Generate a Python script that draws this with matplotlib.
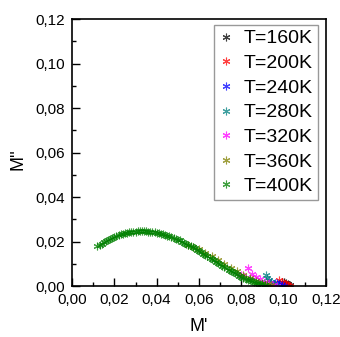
import matplotlib
matplotlib.use('Agg')
import matplotlib.pyplot as plt
from matplotlib.ticker import MultipleLocator, FuncFormatter

labels = ['T=160K', 'T=200K', 'T=240K', 'T=280K', 'T=320K', 'T=360K', 'T=400K']
colors = ['#000000', '#ff0000', '#0000ff', '#008080', '#ff00ff', '#808000', '#008000']

# M' values
x160 = [0.099, 0.100, 0.101, 0.102, 0.103]
x200 = [0.098, 0.099, 0.100, 0.101, 0.102, 0.103]
x240 = [0.094, 0.096, 0.097, 0.098, 0.099, 0.100]
x280 = [0.090, 0.0915, 0.092, 0.093, 0.094, 0.095, 0.096, 0.097]
x320 = [0.080, 0.081, 0.083, 0.085, 0.087, 0.089, 0.091, 0.093, 0.095, 0.097]
x360 = [0.055, 0.057, 0.060, 0.063, 0.066, 0.069, 0.072, 0.075, 0.078,
        0.081, 0.084, 0.087, 0.090, 0.092, 0.094]
x400 = [0.012, 0.013, 0.014, 0.015, 0.016, 0.017, 0.018, 0.019, 0.020, 0.021,
        0.022, 0.023, 0.024, 0.025, 0.026, 0.027, 0.028, 0.029, 0.030, 0.031,
        0.032, 0.033, 0.034, 0.035, 0.036, 0.037, 0.038, 0.039, 0.040, 0.041,
        0.042, 0.043, 0.044, 0.045, 0.046, 0.047, 0.048, 0.049, 0.050, 0.051,
        0.052, 0.053, 0.054, 0.055, 0.056, 0.057, 0.058, 0.059, 0.060, 0.061,
        0.062, 0.063, 0.064, 0.065, 0.066, 0.067, 0.068, 0.069, 0.070, 0.071,
        0.072, 0.073, 0.074, 0.075, 0.076, 0.077, 0.078, 0.079, 0.080, 0.081,
        0.082, 0.083, 0.084, 0.085, 0.086, 0.087, 0.088, 0.089, 0.090, 0.091,
        0.092]

# M'' values
y160 = [0.002, 0.0015, 0.0012, 0.0008, 0.0004]
y200 = [0.0028, 0.002, 0.0015, 0.001, 0.0006, 0.0002]
y240 = [0.002, 0.0015, 0.0012, 0.0008, 0.0005, 0.0002]
y280 = [0.001, 0.005, 0.0035, 0.0025, 0.0016, 0.001, 0.0005, 0.0002]
y320 = [0.005, 0.0045, 0.008, 0.0055, 0.004, 0.003, 0.002, 0.0012, 0.0006, 0.0002]
y360 = [0.0183, 0.0176, 0.0165, 0.0150, 0.0134, 0.0117, 0.0100, 0.0083, 0.0066,
        0.0050, 0.0036, 0.0024, 0.0014, 0.0008, 0.0003]
y400 = [0.0178, 0.0184, 0.0190, 0.0196, 0.0202, 0.0208, 0.0213, 0.0218, 0.0222, 0.0226,
        0.0229, 0.0232, 0.0235, 0.0237, 0.0239, 0.0241, 0.0242, 0.0243, 0.0244, 0.0245,
        0.0245, 0.0245, 0.0245, 0.0245, 0.0244, 0.0243, 0.0242, 0.0241, 0.0239, 0.0237,
        0.0235, 0.0233, 0.0230, 0.0227, 0.0224, 0.0221, 0.0217, 0.0213, 0.0209, 0.0205,
        0.0200, 0.0195, 0.0190, 0.0185, 0.0180, 0.0174, 0.0169, 0.0163, 0.0158, 0.0152,
        0.0146, 0.0140, 0.0134, 0.0128, 0.0122, 0.0116, 0.0110, 0.0104, 0.0098, 0.0092,
        0.0086, 0.0080, 0.0074, 0.0069, 0.0063, 0.0058, 0.0052, 0.0047, 0.0042, 0.0037,
        0.0033, 0.0029, 0.0025, 0.0021, 0.0018, 0.0015, 0.0012, 0.0009, 0.0007, 0.0004,
        0.0002]

xs = [x160, x200, x240, x280, x320, x360, x400]
ys = [y160, y200, y240, y280, y320, y360, y400]

plt.rcParams['font.family'] = ['Liberation Sans', 'DejaVu Sans']

fig = plt.figure(figsize=(3.4, 3.37), dpi=100)
ax = fig.add_axes([0.2118, 0.1513, 0.747, 0.7923])

for i in range(len(labels)):
    ax.plot(xs[i], ys[i], linestyle='none', marker=(6, 2, 0), markersize=5.5,
            markeredgewidth=0.8, color=colors[i], label=labels[i], alpha=0.75)

ax.set_xlim(0, 0.12)
ax.set_ylim(0, 0.12)
ax.xaxis.set_major_locator(MultipleLocator(0.02))
ax.xaxis.set_minor_locator(MultipleLocator(0.01))
ax.yaxis.set_major_locator(MultipleLocator(0.02))
ax.yaxis.set_minor_locator(MultipleLocator(0.01))
fmt = FuncFormatter(lambda v, p: ('%.2f' % v).replace('.', ','))
ax.xaxis.set_major_formatter(fmt)
ax.yaxis.set_major_formatter(fmt)
ax.tick_params(which='both', direction='in', labelsize=11, width=1, pad=5)
ax.tick_params(which='major', length=6)
ax.tick_params(which='minor', length=3)
for s in ax.spines.values():
    s.set_linewidth(1.2)

ax.set_xlabel("M'", fontsize=13)
ax.set_ylabel("M''", fontsize=13)
ax.xaxis.set_label_coords(0.5, -0.118)
ax.yaxis.set_label_coords(-0.181, 0.474)

leg = ax.legend(loc='upper right', bbox_to_anchor=(0.9685, 0.9775), borderaxespad=0,
                fontsize=14, handlelength=0.7, handletextpad=0.6, labelspacing=0.36,
                fancybox=False, framealpha=1, borderpad=0.25)
leg.get_frame().set_edgecolor('#999999')
leg.get_frame().set_linewidth(1)

fig.savefig('out.png', dpi=100)
